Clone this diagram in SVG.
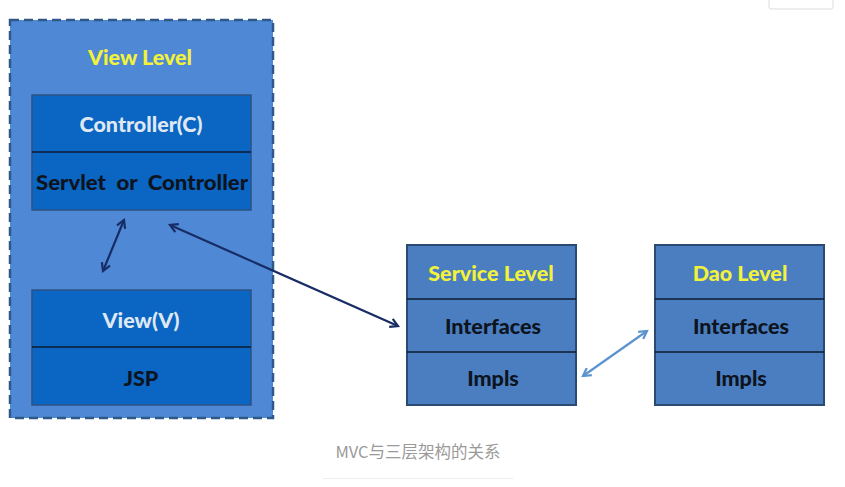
<svg xmlns="http://www.w3.org/2000/svg" width="845" height="487" viewBox="0 0 845 487">
<defs>
<style>
.t{font-family:Lato,"Open Sans","Liberation Sans",sans-serif;font-weight:900;font-size:21.5px;text-anchor:middle;dominant-baseline:central}
.y{fill:#f2f23a}
.w{fill:#dfe8f2}
.k{fill:#0d1420}
.inner{fill:#0b65c2;stroke:#2d5282;stroke-width:1.5}
.box{fill:#4a7ec0;stroke:#2a4a72;stroke-width:2}
.div{stroke:#0e1c30;stroke-width:1.5}
.cap{font-family:"Noto Sans CJK SC","Noto Sans",sans-serif;font-size:16.5px;fill:#9a9a9a;text-anchor:middle}
</style>
<marker id="ad" viewBox="0 0 10 10" refX="8" refY="5" markerWidth="5" markerHeight="5" orient="auto-start-reverse"><path d="M1,1 L8,5 L1,9" fill="none" stroke="#182c66" stroke-width="2"/></marker>
<marker id="al" viewBox="0 0 10 10" refX="8" refY="5" markerWidth="5" markerHeight="5" orient="auto-start-reverse"><path d="M1,1 L8,5 L1,9" fill="none" stroke="#5b93cf" stroke-width="2"/></marker>
</defs>
<rect width="845" height="487" fill="#ffffff"/>
<path d="M769,0 V7 Q769,9 771,9 H831 Q833,9 833,7 V0" fill="#fff" stroke="#dddddd" stroke-width="1"/>
<g id="view-level">
<rect x="10" y="20" width="263" height="398" fill="#4f88d4" stroke="#2f5787" stroke-width="2.5" stroke-dasharray="9,5"/>
<text class="t y" x="140" y="57">View Level</text>
</g>
<g id="controller">
<rect class="inner" x="32" y="95" width="219" height="115"/>
<line class="div" x1="32" y1="152" x2="251" y2="152"/>
<text class="t w" x="141" y="124">Controller(C)</text>
<text class="t k" x="142" y="182" xml:space="preserve" textLength="212" lengthAdjust="spacingAndGlyphs">Servlet  or  Controller</text>
</g>
<g id="view">
<rect class="inner" x="32" y="290" width="219" height="115"/>
<line class="div" x1="32" y1="347" x2="251" y2="347"/>
<text class="t w" x="141" y="320">View(V)</text>
<text class="t k" x="141" y="378">JSP</text>
</g>
<g id="service-level">
<rect class="box" x="407" y="245" width="169" height="160"/>
<line class="div" x1="407" y1="299" x2="576" y2="299"/>
<line class="div" x1="407" y1="352" x2="576" y2="352"/>
<text class="t y" x="491" y="273">Service Level</text>
<text class="t k" x="493" y="326">Interfaces</text>
<text class="t k" x="493" y="378">Impls</text>
</g>
<g id="dao-level">
<rect class="box" x="655" y="245" width="169" height="160"/>
<line class="div" x1="655" y1="299" x2="824" y2="299"/>
<line class="div" x1="655" y1="352" x2="824" y2="352"/>
<text class="t y" x="740" y="273">Dao Level</text>
<text class="t k" x="741" y="326">Interfaces</text>
<text class="t k" x="741" y="378">Impls</text>
</g>
<g id="connectors" fill="none">
<line x1="124" y1="220" x2="103" y2="271" stroke="#182c66" stroke-width="2.2" marker-start="url(#ad)" marker-end="url(#ad)"/>
<line x1="170" y1="225" x2="398" y2="326" stroke="#182c66" stroke-width="2.2" marker-start="url(#ad)" marker-end="url(#ad)"/>
<line x1="583" y1="376" x2="647" y2="331" stroke="#5b93cf" stroke-width="2.2" marker-start="url(#al)" marker-end="url(#al)"/>
</g>
<text class="cap" x="418" y="458">MVC与三层架构的关系</text>
<line x1="323" y1="478.5" x2="513" y2="478.5" stroke="#eeeeee" stroke-width="1"/>
</svg>
